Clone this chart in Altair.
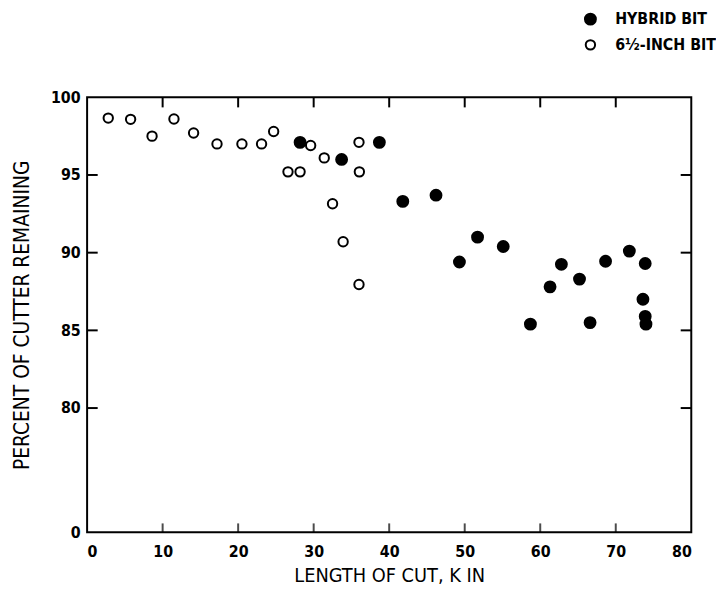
import altair as alt
import pandas as pd

# ---- data ----
hybrid_x = [28.2, 33.7, 38.7, 41.8, 46.2, 49.3, 51.7, 55.1, 58.7, 61.3, 62.8, 65.2, 66.6, 68.65, 71.8, 73.9, 73.6, 73.9, 74.0]
hybrid_y = [97.1, 96.0, 97.1, 93.3, 93.7, 89.4, 91.0, 90.4, 85.4, 87.8, 89.25, 88.3, 85.5, 89.45, 90.1, 89.3, 87.0, 85.9, 85.4]

inch_x = [2.8, 5.76, 8.6, 11.5, 14.1, 17.2, 20.5, 23.1, 24.7, 26.6, 28.2, 29.6, 31.4, 32.5, 33.9, 36.0, 36.05, 36.0]
inch_y = [98.66, 98.58, 97.5, 98.6, 97.7, 97.0, 97.0, 97.0, 97.8, 95.2, 95.2, 96.9, 96.1, 93.15, 90.7, 97.1, 95.2, 87.95]

series_names = ["HYBRID BIT", "6\u00bd-INCH BIT"]
x_ticks = [0, 10, 20, 30, 40, 50, 60, 70, 80]
inner_x_ticks = [10, 20, 30, 40, 50, 60, 70]
y_ticks = [72, 80, 85, 90, 95, 100]
side_ticks = [80, 85, 90, 95]

df = pd.DataFrame(
    {"x": inch_x + hybrid_x,
     "y": inch_y + hybrid_y,
     "series": [series_names[1]] * len(inch_x) + [series_names[0]] * len(hybrid_x)}
)
xt_df = pd.DataFrame({"t": inner_x_ticks})
side_df = pd.DataFrame({"t": side_ticks})

W, H = 611, 440
LAB = "DejaVu Sans Condensed, sans-serif"
X0, X1, Y0, Y1 = 0, 80, 72, 100
XT, YT = 1.4, 0.65  # inward tick lengths in data units (about 10 px)

xscale = alt.Scale(domain=[X0, X1], nice=False)
yscale = alt.Scale(domain=[Y0, Y1], nice=False, zero=False)

leg = alt.Legend(title=None, orient="none", legendX=501, legendY=-87)

points = alt.Chart(df).mark_point(
    shape="circle", filled=True, strokeWidth=2, opacity=1
).encode(
    x=alt.X("x:Q", scale=xscale,
            axis=alt.Axis(values=x_ticks, title="LENGTH OF CUT, K IN", ticks=False,
                          domain=False, grid=False, labelPadding=11, titlePadding=7,
                          titleFontSize=20)),
    y=alt.Y("y:Q", scale=yscale,
            axis=alt.Axis(values=y_ticks, title="PERCENT OF CUTTER REMAINING", ticks=False,
                          domain=False, grid=False, labelPadding=7, titlePadding=18,
                          titleFontSize=21,
                          labelExpr="datum.value == 72 ? '0' : datum.label")),
    fill=alt.Fill("series:N", scale=alt.Scale(domain=series_names, range=["black", "white"]),
                  legend=leg),
    stroke=alt.Stroke("series:N", scale=alt.Scale(domain=series_names, range=["black", "black"]),
                      legend=leg),
    size=alt.Size("series:N", scale=alt.Scale(domain=series_names, range=[121, 90]),
                  legend=leg),
)

rule = dict(color="black", strokeWidth=2)
top_rules = alt.Chart(xt_df).mark_rule(**rule).encode(
    x=alt.X("t:Q", scale=xscale), y=alt.datum(Y1, scale=yscale), y2=alt.datum(Y1 - YT)
)
bottom_ticks = alt.Chart(xt_df).mark_tick(color="black", thickness=2, size=9, orient="vertical").encode(
    x=alt.X("t:Q", scale=xscale), y=alt.datum(Y0 + 0.29, scale=yscale)
)
left_rules = alt.Chart(side_df).mark_rule(**rule).encode(
    y=alt.Y("t:Q", scale=yscale), x=alt.datum(X0, scale=xscale), x2=alt.datum(X0 + XT)
)
right_rules = alt.Chart(side_df).mark_rule(**rule).encode(
    y=alt.Y("t:Q", scale=yscale), x=alt.datum(X1, scale=xscale), x2=alt.datum(X1 - XT)
)

chart = alt.layer(points, top_rules, bottom_ticks, left_rules, right_rules).properties(
    width=W, height=H,
    background="white",
    autosize=alt.AutoSizeParams(type="none"),
    padding={"left": 80, "top": 87, "right": 25, "bottom": 55},
).configure_view(
    stroke="black", strokeWidth=2
).configure_axis(
    labelFont=LAB, labelFontSize=16, labelFontWeight="bold", labelColor="black",
    titleFont=LAB, titleFontWeight="normal", titleColor="black",
).configure_legend(
    labelFont=LAB, labelFontSize=16, labelFontWeight="bold", labelColor="black",
    symbolStrokeColor="black", symbolStrokeWidth=2, rowPadding=7, labelOffset=17,
    symbolType="circle",
)

chart.save("out.html", embed_options={"renderer": "svg", "actions": False})
